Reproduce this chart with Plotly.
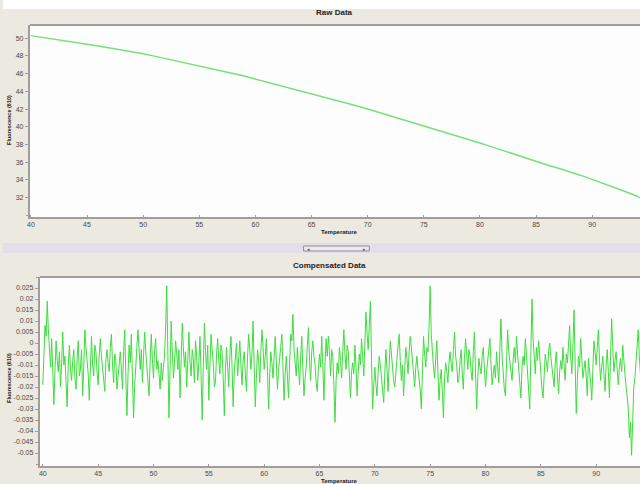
import numpy as np
import plotly.graph_objects as go

# ---------------- data ----------------
raw_temp = [40, 41, 42, 43, 44, 45, 46, 47, 48, 49, 50, 51, 52, 53, 54, 55, 56, 57, 58, 59,
            60, 61, 62, 63, 64, 65, 66, 67, 68, 69, 70, 71, 72, 73, 74, 75, 76, 77, 78, 79,
            80, 81, 82, 83, 84, 85, 86, 87, 88, 89, 90, 91, 92, 93, 94, 94.3]
raw_fluor = [50.30, 50.12, 49.93, 49.73, 49.53, 49.33, 49.12, 48.92, 48.70, 48.50,
             48.25, 47.98, 47.71, 47.43, 47.15, 46.88, 46.60, 46.32, 46.02, 45.73,
             45.40, 45.08, 44.76, 44.43, 44.10, 43.76, 43.42, 43.08, 42.72, 42.37,
             42.00, 41.62, 41.25, 40.88, 40.50, 40.12, 39.74, 39.37, 38.98, 38.58,
             38.17, 37.75, 37.32, 36.90, 36.50, 36.05, 35.68, 35.30, 34.92, 34.50,
             34.05, 33.60, 33.15, 32.65, 32.15, 31.95]

comp_start = 40.0
comp_step = 0.1
comp_fluor = [
    -0.019, -0.004, 0.008, 0.003, 0.019, 0.006, -0.006, -0.011, 0.002, -0.015,
    -0.028, -0.012, 0.001, -0.008, -0.013, -0.004, -0.020, -0.009, 0.005, -0.010,
    -0.006, -0.018, -0.029, -0.010, -0.001, -0.012, -0.017, -0.008, -0.003, -0.016,
    -0.021, -0.007, 0.001, -0.015, -0.012, -0.003, -0.024, -0.011, 0.006, -0.002,
    -0.009, -0.014, -0.026, -0.007, 0.003, -0.010, -0.015, -0.001, -0.004, -0.013,
    -0.019, -0.005, 0.002, -0.006, -0.011, -0.016, -0.022, -0.008, -0.003, -0.009,
    -0.013, -0.002, 0.004, -0.010, -0.018, -0.005, -0.008, -0.021, -0.014, -0.007,
    -0.004, -0.012, -0.021, -0.004, 0.006, -0.015, -0.033, -0.014, -0.001, -0.009,
    0.004, -0.016, -0.034, -0.019, -0.008, -0.002, 0.006, -0.005, -0.012, -0.003,
    -0.018, -0.006, 0.005, -0.004, -0.010, -0.019, -0.024, -0.008, 0.004, -0.007,
    -0.016, -0.003, 0.002, -0.012, -0.008, -0.014, -0.021, -0.009, -0.017, -0.011,
    -0.006, 0.008, 0.026, -0.006, -0.034, -0.012, 0.010, -0.003, -0.016, -0.009,
    0.001, -0.005, -0.012, -0.003, -0.025, -0.007, 0.009, -0.002, -0.011, -0.004,
    -0.020, -0.008, 0.005, -0.009, -0.015, -0.003, -0.007, -0.018, 0.001, -0.006,
    -0.017, -0.009, 0.003, -0.014, -0.035, -0.011, 0.009, -0.004, -0.012, -0.001,
    -0.026, -0.010, 0.004, -0.003, -0.009, -0.020, -0.018, -0.005, 0.002, -0.008,
    -0.014, -0.001, -0.004, -0.016, -0.033, -0.012, -0.002, -0.011, -0.020, -0.006,
    0.003, -0.011, -0.029, -0.013, -0.006, 0.000, -0.015, -0.007, 0.001, -0.010,
    -0.019, -0.008, -0.004, -0.014, -0.022, -0.006, 0.004, -0.003, -0.012, -0.005,
    0.010, -0.011, -0.029, -0.015, -0.003, -0.008, -0.018, -0.004, 0.006, -0.002,
    -0.012, -0.006, 0.002, -0.013, -0.030, -0.015, -0.004, -0.009, -0.016, -0.007,
    0.003, -0.008, -0.021, -0.012, -0.008, -0.002, 0.004, -0.013, -0.026, -0.014,
    -0.006, -0.015, -0.025, -0.009, 0.004, 0.001, 0.013, -0.003, -0.010, -0.015,
    -0.002, -0.010, -0.019, -0.006, 0.003, -0.012, -0.024, -0.016, -0.011, -0.001,
    0.007, -0.008, -0.017, -0.004, 0.001, -0.006, -0.010, -0.018, -0.022, -0.012,
    -0.005, -0.011, 0.003, -0.010, -0.026, -0.009, 0.002, -0.006, 0.003, -0.004,
    -0.015, -0.003, -0.006, -0.019, -0.036, -0.017, -0.009, -0.014, -0.002, -0.008,
    -0.016, -0.004, 0.006, -0.005, -0.012, -0.001, -0.004, -0.015, -0.025, -0.013,
    -0.009, -0.014, -0.001, -0.011, -0.024, -0.013, -0.005, -0.010, 0.002, -0.006,
    -0.015, 0.000, 0.014, 0.004, -0.003, 0.008, 0.019, -0.008, -0.030, -0.019,
    -0.011, -0.019, -0.024, -0.013, -0.006, -0.010, -0.016, -0.022, -0.027, -0.014,
    -0.003, -0.012, -0.022, -0.009, 0.001, -0.005, -0.012, -0.017, -0.020, -0.011,
    -0.007, -0.001, 0.004, -0.008, -0.017, -0.010, -0.024, -0.012, -0.002, -0.007,
    -0.014, -0.004, 0.003, -0.002, -0.009, -0.016, -0.020, -0.011, -0.006, -0.012,
    -0.016, -0.021, -0.030, -0.012, 0.003, -0.005, -0.011, -0.002, -0.004, 0.008,
    0.026, 0.004, -0.006, -0.011, -0.016, -0.005, 0.001, -0.013, -0.026, -0.017,
    -0.012, -0.022, -0.034, -0.016, -0.009, -0.013, -0.018, -0.009, -0.004, -0.010,
    -0.013, -0.003, 0.005, -0.006, -0.010, -0.018, -0.016, -0.008, -0.003, -0.014,
    -0.021, -0.007, 0.002, -0.005, -0.012, -0.003, -0.006, -0.013, -0.017, -0.004,
    0.005, -0.014, -0.030, -0.016, -0.007, -0.011, -0.014, -0.006, -0.002, -0.012,
    -0.020, -0.013, -0.008, -0.003, 0.002, -0.010, -0.019, -0.014, -0.010, -0.016,
    -0.004, -0.011, -0.018, -0.002, 0.011, -0.006, -0.015, -0.021, -0.024, -0.007,
    0.006, -0.004, -0.008, -0.013, -0.017, -0.007, -0.002, -0.009, 0.003, -0.005,
    -0.012, -0.018, -0.025, -0.011, -0.006, -0.010, 0.002, -0.005, -0.014, -0.021,
    -0.030, -0.004, 0.020, 0.002, -0.009, -0.014, -0.002, -0.008, 0.001, -0.007,
    -0.016, -0.021, -0.025, -0.011, -0.005, -0.009, -0.013, -0.004, 0.000, -0.006,
    -0.011, -0.016, -0.020, -0.009, -0.004, -0.015, -0.023, -0.013, -0.008, -0.012,
    -0.002, -0.010, -0.017, -0.005, -0.009, -0.001, 0.008, -0.006, -0.014, -0.001,
    0.015, -0.010, -0.032, -0.017, -0.006, -0.011, 0.002, -0.007, -0.016, -0.012,
    -0.008, -0.015, -0.024, -0.007, -0.012, -0.018, -0.026, -0.011, 0.001, -0.004,
    -0.010, -0.002, 0.006, -0.008, -0.017, -0.011, -0.006, -0.014, -0.022, -0.010,
    -0.003, -0.013, -0.025, -0.006, 0.011, -0.002, -0.013, -0.008, -0.004, -0.012,
    -0.019, -0.011, -0.007, -0.013, -0.001, -0.008, -0.015, -0.020, -0.024, -0.030,
    -0.043, -0.036, -0.051, -0.033, -0.020, -0.016, -0.010, -0.002, 0.006, -0.006,
    -0.014, -0.011, -0.008, -0.012,
]
comp_temp = np.round(comp_start + comp_step * np.arange(len(comp_fluor)), 2)

x_ticks = [40, 45, 50, 55, 60, 65, 70, 75, 80, 85, 90]
raw_y_ticks = [32, 34, 36, 38, 40, 42, 44, 46, 48, 50]
comp_y_ticks = [0.025, 0.02, 0.015, 0.01, 0.005, 0, -0.005, -0.01, -0.015, -0.02,
                -0.025, -0.03, -0.035, -0.04, -0.045, -0.05]
comp_y_labels = ["0.025", "0.02", "0.015", "0.01", "0.005", "0", "-0.005", "-0.01",
                 "-0.015", "-0.02", "-0.025", "-0.03", "-0.035", "-0.04", "-0.045", "-0.05"]

# ---------------- layout constants ----------------
W, H = 640, 484
BG = "#ECE9E1"
AX = "#A29D9B"
TXT = "#4A4A4A"
FONT = "Liberation Sans, Arial, sans-serif"


def py(pix):
    return 1 - pix / H


def px(pix):
    return pix / W


fig = go.Figure()
fig.add_trace(go.Scatter(x=raw_temp, y=raw_fluor, mode="lines",
                         line=dict(color="#78E078", width=1.5),
                         xaxis="x", yaxis="y", showlegend=False))
fig.add_trace(go.Scatter(x=comp_temp, y=comp_fluor, mode="lines",
                         line=dict(color="#3FDC3F", width=1),
                         xaxis="x2", yaxis="y2", showlegend=False))

tickfont = dict(family=FONT, size=7, color=TXT)
common_x = dict(showgrid=False, zeroline=False, showline=True, linecolor=AX, linewidth=2,
                ticks="inside", ticklen=2, tickcolor=AX, tickfont=tickfont,
                tickvals=x_ticks, ticktext=[str(v) for v in x_ticks])
common_y = dict(showgrid=False, zeroline=False, showline=True, linecolor=AX, linewidth=2,
                ticks="outside", ticklen=3, tickcolor=AX, tickfont=tickfont,
                minor=dict(ticks="outside", ticklen=2, tickcolor=AX, nticks=4))

top_l, top_t, top_b = 27, 25, 217
bot_l, bot_t, bot_b = 37, 277, 466

fig.update_layout(
    width=W, height=H,
    margin=dict(l=0, r=0, t=0, b=0),
    paper_bgcolor=BG, plot_bgcolor="#FDFDFD",
    showlegend=False,
    xaxis=dict(domain=[px(top_l), 1], range=[39.91, 94.26], anchor="y", **common_x),
    yaxis=dict(domain=[py(top_b), py(top_t)], range=[29.8, 51.5], anchor="x",
               tickvals=raw_y_ticks, ticktext=[str(v) for v in raw_y_ticks], **common_y),
    xaxis2=dict(domain=[px(bot_l), 1], range=[39.73, 93.96], anchor="y2", **common_x),
    yaxis2=dict(domain=[py(bot_b), py(bot_t)], range=[-0.0559, 0.030], anchor="x2",
                tickvals=comp_y_ticks, ticktext=comp_y_labels, **common_y),
)

shapes = [
    dict(type="rect", xref="paper", yref="paper", x0=0, x1=1, y0=py(9), y1=1,
         fillcolor="white", line=dict(width=0), layer="below"),
    dict(type="line", xref="paper", yref="paper", x0=px(top_l), x1=1, y0=py(top_t), y1=py(top_t),
         line=dict(color=AX, width=2)),
    dict(type="line", xref="paper", yref="paper", x0=px(bot_l), x1=1, y0=py(bot_t), y1=py(bot_t),
         line=dict(color=AX, width=2)),
    dict(type="rect", xref="paper", yref="paper", x0=0, x1=1, y0=py(253), y1=py(243),
         fillcolor="#E3DFEA", line=dict(width=0), layer="below"),
    dict(type="rect", xref="paper", yref="paper", x0=px(302), x1=px(368), y0=py(251), y1=py(246),
         fillcolor="#ECEAF0", line=dict(color="#8E8A96", width=1)),
]
fig.update_layout(shapes=shapes)


def ann(text, x, y, size, angle=0, color="#222222"):
    return dict(text=text, x=px(x), y=py(y), xref="paper", yref="paper",
                xanchor="center", yanchor="middle", showarrow=False, textangle=angle,
                font=dict(family=FONT, size=size, color=color))


annotations = [
    ann("<b>Raw Data</b>", 333, 13, 8),
    ann("<b>Temperature</b>", 338, 232, 6),
    ann("<b>Compensated Data</b>", 328, 265, 8),
    ann("<b>Temperature</b>", 338, 481, 6),
    ann("<b>Fluorescence (610)</b>", 6, 120, 5.5, -90),
    ann("<b>Fluorescence (610)</b>", 6, 378, 5.5, -90),
    ann("◂", 307, 248.5, 5, 0, "#555555"),
    ann("▸", 363, 248.5, 5, 0, "#555555"),
]
fig.update_layout(annotations=annotations)

fig.write_html("out.html")
